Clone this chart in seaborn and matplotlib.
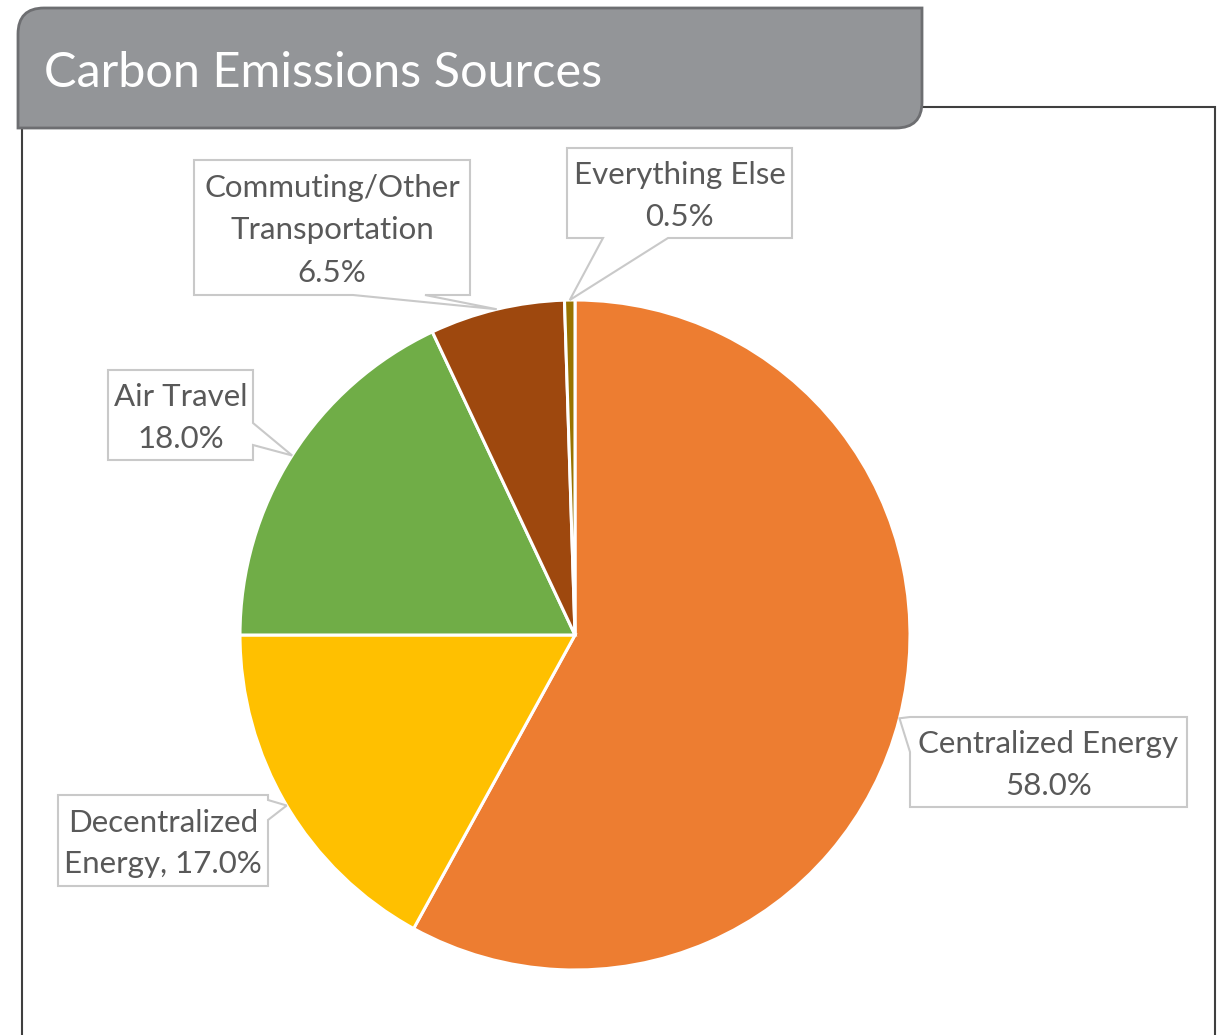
import matplotlib
matplotlib.use("Agg")
import numpy as np
import matplotlib.pyplot as plt
from matplotlib.patches import Polygon, Rectangle, PathPatch
from matplotlib.path import Path
import seaborn as sns

# --- data -------------------------------------------------------------
sources = ["Centralized Energy", "Decentralized Energy", "Air Travel",
           "Commuting/Other Transportation", "Everything Else"]
shares = [58.0, 17.0, 18.0, 6.5, 0.5]
label_templates = ["Centralized Energy\n{v}", "Decentralized\nEnergy, {v}",
                   "Air Travel\n{v}", "Commuting/Other\nTransportation\n{v}",
                   "Everything Else\n{v}"]
slice_colors = ["#ED7D31", "#FFC000", "#70AD47", "#9E480E", "#997300"]
title = "Carbon Emissions Sources"

# --- style ------------------------------------------------------------
sns.set_theme(style="white")
plt.rcParams["font.family"] = ["Lato", "DejaVu Sans"]
palette = sns.color_palette(slice_colors)

W, H = 1225, 1035
fig = plt.figure(figsize=(W / 100, H / 100), dpi=100)
fig.patch.set_facecolor("white")

# pie axes: centre (575, 635) px, radius 335 px
cx, cy, r = 575, 635, 335
ax = fig.add_axes([(cx - r) / W, (H - cy - r) / H, 2 * r / W, 2 * r / H])
wedges, _ = ax.pie(shares, colors=palette, startangle=90, counterclock=False,
                   radius=1.0,
                   wedgeprops=dict(edgecolor="white", linewidth=2.2))
ax.set_xlim(-1, 1)
ax.set_ylim(-1, 1)
ax.set_aspect("auto")
ax.axis("off")

# overlay in pixel coordinates (origin top-left)
ov = fig.add_axes([0, 0, 1, 1], zorder=5)
ov.set_xlim(0, W)
ov.set_ylim(H, 0)
ov.axis("off")
ov.patch.set_alpha(0)

# chart frame
ov.add_patch(Rectangle((22, 107), 1215 - 22, 1100, fill=False,
                       edgecolor="#3f3f3f", linewidth=1.5, zorder=1))

# title banner: rounded top-left and bottom-right corners
bx0, by0, bx1, by1, rad = 18, 8, 922, 128, 26
verts = [(bx0, by0 + rad), (bx0, by0), (bx0 + rad, by0),
         (bx1, by0), (bx1, by1 - rad), (bx1, by1), (bx1 - rad, by1),
         (bx0, by1), (bx0, by0 + rad)]
codes = [Path.MOVETO, Path.CURVE3, Path.CURVE3,
         Path.LINETO, Path.LINETO, Path.CURVE3, Path.CURVE3,
         Path.LINETO, Path.CLOSEPOLY]
ov.add_patch(PathPatch(Path(verts, codes), facecolor="#939598",
                       edgecolor="#6d6e71", linewidth=2, zorder=3))
ov.text(44, 73, title, color="white", fontsize=35, va="center", ha="left",
        zorder=4)

# callout boxes: (x0, y0, x1, y1), side carrying the pointer, pointer span
boxes = [
    ((910, 717, 1187, 807), "left", (717, 752)),
    ((58, 795, 268, 886), "right", (800, 820)),
    ((108, 370, 253, 460), "right", (423, 445)),
    ((194, 160, 470, 295), "bottom", (353, 425)),
    ((567, 148, 792, 238), "bottom", (603, 668)),
]

to_px = ov.transData.inverted()
line_gap = 42
for w, val, tmpl, (box, side, (a, b)) in zip(wedges, shares,
                                             label_templates, boxes):
    # pointer tip sits on the rim at the middle of the wedge
    ang = np.deg2rad((w.theta1 + w.theta2) / 2)
    tip = tuple(to_px.transform(ax.transData.transform((np.cos(ang),
                                                        np.sin(ang)))))
    x0, y0, x1, y1 = box
    pts = [(x0, y0), (x1, y0)]
    if side == "right":
        pts += [(x1, a), tip, (x1, b)]
    pts += [(x1, y1)]
    if side == "bottom":
        pts += [(b, y1), tip, (a, y1)]
    pts += [(x0, y1)]
    if side == "left":
        pts += [(x0, b), tip, (x0, a)]
    ov.add_patch(Polygon(pts, closed=True, facecolor="white",
                         edgecolor="#c9c9c9", linewidth=1.5, zorder=2))
    lines = tmpl.format(v=f"{val:.1f}%").split("\n")
    xc = (x0 + x1) / 2
    yc = (y0 + y1) / 2 + 3
    for i, line in enumerate(lines):
        yy = yc + (i - (len(lines) - 1) / 2) * line_gap
        ov.text(xc, yy, line, color="#595959", fontsize=22.5, ha="center",
                va="center", zorder=3)

fig.savefig("out.png", dpi=100)
